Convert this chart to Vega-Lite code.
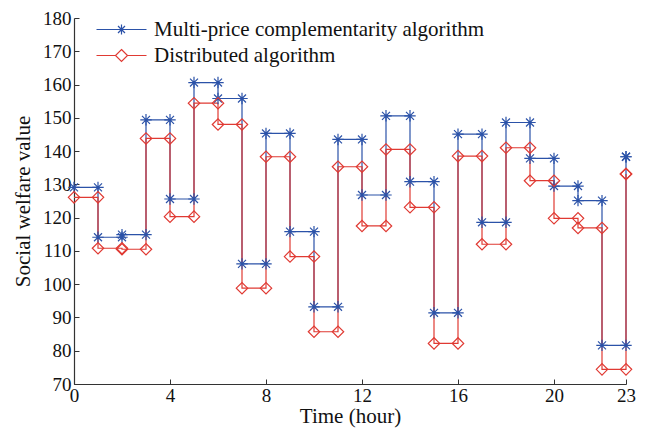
{
  "$schema": "https://vega.github.io/schema/vega-lite/v6.json",
  "width": 552,
  "height": 366,
  "autosize": {"type": "none"},
  "padding": {"left": 74, "top": 18, "right": 22, "bottom": 47},
  "background": "white",
  "config": {
    "view": {"stroke": null},
    "font": "Liberation Serif",
    "axis": {
      "grid": false,
      "domainColor": "#333333",
      "domainWidth": 1.2,
      "tickColor": "#333333",
      "tickWidth": 1,
      "tickSize": -5,
      "labelOverlap": false,
      "labelFlush": false,
      "labelFont": "Liberation Serif",
      "labelFontSize": 19,
      "labelColor": "#111111",
      "titleFont": "Liberation Serif",
      "titleFontSize": 21,
      "titleFontWeight": "normal",
      "titleColor": "#111111"
    }
  },
  "data": {"values": [
    {"series": "Multi-price complementarity algorithm", "start": 0, "end": 1, "value": 129.1},
    {"series": "Multi-price complementarity algorithm", "start": 1, "end": 2, "value": 114.1},
    {"series": "Multi-price complementarity algorithm", "start": 2, "end": 3, "value": 114.9},
    {"series": "Multi-price complementarity algorithm", "start": 3, "end": 4, "value": 149.4},
    {"series": "Multi-price complementarity algorithm", "start": 4, "end": 5, "value": 125.6},
    {"series": "Multi-price complementarity algorithm", "start": 5, "end": 6, "value": 160.6},
    {"series": "Multi-price complementarity algorithm", "start": 6, "end": 7, "value": 155.8},
    {"series": "Multi-price complementarity algorithm", "start": 7, "end": 8, "value": 106.1},
    {"series": "Multi-price complementarity algorithm", "start": 8, "end": 9, "value": 145.3},
    {"series": "Multi-price complementarity algorithm", "start": 9, "end": 10, "value": 115.8},
    {"series": "Multi-price complementarity algorithm", "start": 10, "end": 11, "value": 93.2},
    {"series": "Multi-price complementarity algorithm", "start": 11, "end": 12, "value": 143.5},
    {"series": "Multi-price complementarity algorithm", "start": 12, "end": 13, "value": 126.8},
    {"series": "Multi-price complementarity algorithm", "start": 13, "end": 14, "value": 150.6},
    {"series": "Multi-price complementarity algorithm", "start": 14, "end": 15, "value": 130.8},
    {"series": "Multi-price complementarity algorithm", "start": 15, "end": 16, "value": 91.4},
    {"series": "Multi-price complementarity algorithm", "start": 16, "end": 17, "value": 145.1},
    {"series": "Multi-price complementarity algorithm", "start": 17, "end": 18, "value": 118.6},
    {"series": "Multi-price complementarity algorithm", "start": 18, "end": 19, "value": 148.6},
    {"series": "Multi-price complementarity algorithm", "start": 19, "end": 20, "value": 137.8},
    {"series": "Multi-price complementarity algorithm", "start": 20, "end": 21, "value": 129.5},
    {"series": "Multi-price complementarity algorithm", "start": 21, "end": 22, "value": 125.1},
    {"series": "Multi-price complementarity algorithm", "start": 22, "end": 23, "value": 81.6},
    {"series": "Multi-price complementarity algorithm", "start": 23, "end": 23, "value": 138.3},
    {"series": "Distributed algorithm", "start": 0, "end": 1, "value": 126.1},
    {"series": "Distributed algorithm", "start": 1, "end": 2, "value": 110.8},
    {"series": "Distributed algorithm", "start": 2, "end": 3, "value": 110.5},
    {"series": "Distributed algorithm", "start": 3, "end": 4, "value": 143.8},
    {"series": "Distributed algorithm", "start": 4, "end": 5, "value": 120.3},
    {"series": "Distributed algorithm", "start": 5, "end": 6, "value": 154.4},
    {"series": "Distributed algorithm", "start": 6, "end": 7, "value": 148.0},
    {"series": "Distributed algorithm", "start": 7, "end": 8, "value": 98.8},
    {"series": "Distributed algorithm", "start": 8, "end": 9, "value": 138.3},
    {"series": "Distributed algorithm", "start": 9, "end": 10, "value": 108.3},
    {"series": "Distributed algorithm", "start": 10, "end": 11, "value": 85.7},
    {"series": "Distributed algorithm", "start": 11, "end": 12, "value": 135.3},
    {"series": "Distributed algorithm", "start": 12, "end": 13, "value": 117.5},
    {"series": "Distributed algorithm", "start": 13, "end": 14, "value": 140.5},
    {"series": "Distributed algorithm", "start": 14, "end": 15, "value": 123.1},
    {"series": "Distributed algorithm", "start": 15, "end": 16, "value": 82.2},
    {"series": "Distributed algorithm", "start": 16, "end": 17, "value": 138.5},
    {"series": "Distributed algorithm", "start": 17, "end": 18, "value": 112.0},
    {"series": "Distributed algorithm", "start": 18, "end": 19, "value": 141.0},
    {"series": "Distributed algorithm", "start": 19, "end": 20, "value": 131.1},
    {"series": "Distributed algorithm", "start": 20, "end": 21, "value": 119.8},
    {"series": "Distributed algorithm", "start": 21, "end": 22, "value": 116.9},
    {"series": "Distributed algorithm", "start": 22, "end": 23, "value": 74.4},
    {"series": "Distributed algorithm", "start": 23, "end": 23, "value": 133.1}
  ]},
  "encoding": {
    "y": {"field": "value", "type": "quantitative",
          "scale": {"domain": [70, 180], "nice": false, "zero": false},
          "axis": {"values": [70, 80, 90, 100, 110, 120, 130, 140, 150, 160, 170, 180], "tickCount": 12, "title": "Social welfare value", "labelPadding": 8, "titlePadding": 9, "labelOverlap": false}},
    "color": {"field": "series", "type": "nominal",
              "scale": {"domain": ["Multi-price complementarity algorithm", "Distributed algorithm"], "range": ["#2b52a8", "#e03a33"]},
              "legend": {
                "title": null, "orient": "none", "legendX": 37, "legendY": 1,
                "padding": 0, "symbolSize": 100, "labelOffset": 22, "rowPadding": 4,
                "labelFont": "Liberation Serif", "labelFontSize": 21, "labelColor": "#111111", "labelLimit": 500,
                "encode": {"symbols": {"update": {
                  "shape": {"signal": "datum.value === 'Distributed algorithm' ? 'M-5,0L-1.2,0M1.2,0L5,0M0,-1.2L1.2,0L0,1.2L-1.2,0Z' : 'M-5,0L5,0M0,-1L0,1M-0.7,-0.7L0.7,0.7M-0.7,0.7L0.7,-0.7'"},
                  "fill": {"value": "transparent"},
                  "stroke": {"signal": "datum.value === 'Distributed algorithm' ? '#e03a33' : '#2b52a8'"},
                  "strokeWidth": {"value": 1.2},
                  "opacity": {"value": 1}
                }}}
              }}
  },
  "layer": [
    {
      "mark": {"type": "line", "interpolate": "step-after", "strokeWidth": 1.2},
      "encoding": {
        "x": {"field": "start", "type": "quantitative",
              "scale": {"domain": [0, 23], "nice": false, "zero": false},
              "axis": {"values": [0, 4, 8, 12, 16, 20, 23], "title": "Time (hour)", "labelPadding": 7, "titlePadding": 0, "labelOverlap": false, "labelFlush": false}},
        "order": {"field": "start", "type": "quantitative"}
      }
    },
    {
      "mark": {"type": "point", "filled": false, "strokeWidth": 1.2, "opacity": 1},
      "encoding": {
        "x": {"field": "start", "type": "quantitative"},
        "shape": {"condition": {"test": "datum.series === 'Distributed algorithm'", "value": "diamond"}, "value": "M-1,0L1,0M0,-1L0,1M-0.7,-0.7L0.7,0.7M-0.7,0.7L0.7,-0.7"},
        "size": {"value": 130}
      }
    },
    {
      "mark": {"type": "point", "filled": false, "strokeWidth": 1.2, "opacity": 1},
      "encoding": {
        "x": {"field": "end", "type": "quantitative"},
        "shape": {"condition": {"test": "datum.series === 'Distributed algorithm'", "value": "diamond"}, "value": "M-1,0L1,0M0,-1L0,1M-0.7,-0.7L0.7,0.7M-0.7,0.7L0.7,-0.7"},
        "size": {"value": 130}
      }
    }
  ]
}
